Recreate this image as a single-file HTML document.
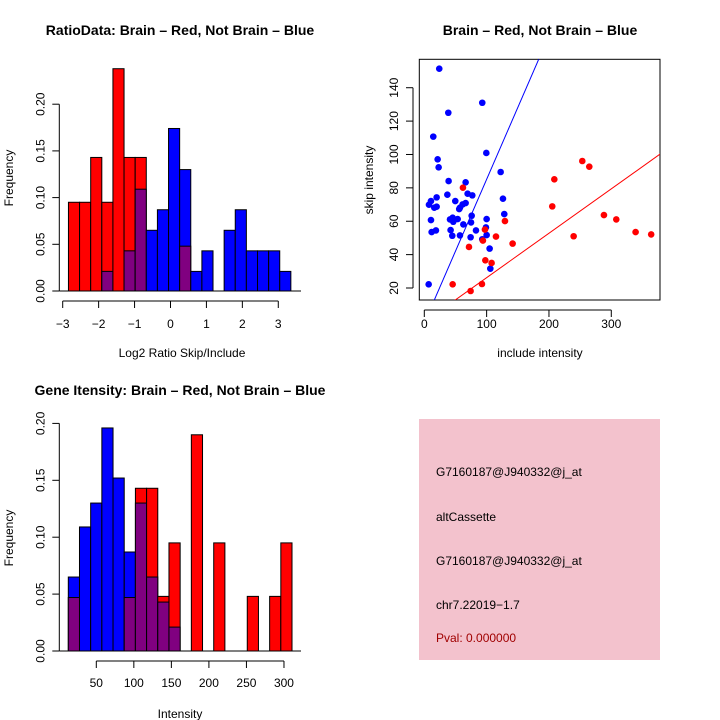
<!DOCTYPE html>
<html><head><meta charset="utf-8"><style>
body{margin:0;background:#fff}
svg{display:block;font-family:"Liberation Sans",sans-serif}
</style></head><body>
<svg id="c" width="720" height="720" viewBox="0 0 720 720">
<rect width="720" height="720" fill="#fff"/>
</svg>
<script>
// ---- data ----
const ratioRed  = [0.095,0.095,0.143,0.095,0.238,0.143,0.143,0,0,0,0.048,0,0,0,0,0,0,0,0,0];
const ratioBlue = [0,0,0,0.021,0,0.043,0.109,0.065,0.087,0.174,0.130,0.021,0.043,0,0.065,0.087,0.043,0.043,0.043,0.021];
const ratioBinStart = -2.84, ratioBinWidth = 0.3095;
const ratioXTicks = [-3,-2,-1,0,1,2,3];
const freqTicks = [0,0.05,0.10,0.15,0.20];
const freqLabels = ["0.00","0.05","0.10","0.15","0.20"];

const intRed  = [0.047,0,0,0,0,0.047,0.143,0.143,0.048,0.095,0,0.190,0,0.095,0,0,0.048,0,0.048,0.095];
const intBlue = [0.065,0.109,0.130,0.196,0.152,0.087,0.130,0.065,0.043,0.021,0,0,0,0,0,0,0,0,0,0];
const intBinStart = 12.7, intBinWidth = 14.9;
const intXTicks = [50,100,150,200,250,300];

const blueX = [24,93,38.5,14.4,99.5,21.4,23,122.5,39,66.3,37,69.5,77,19.8,10.7,49.7,126.2,7.5,19.8,16,66.3,61.5,57.2,56,76,128.3,10.7,41.2,45.5,53.5,46.5,62.6,75,100,11.8,18.7,42.2,44.9,57.2,74.3,82.9,98.9,100,93,104.8,105.9,7];
const blueY = [151.4,131,125,110.7,100.9,97.1,92.3,89.5,84.1,83.3,75.9,76.5,75.5,74.3,72.1,72.1,73.5,69.9,68.7,68.1,70.9,70.1,68.1,67.3,63.3,64.3,60.7,61.1,62.1,61.3,59.7,58.1,59.3,61.3,53.5,54.5,54.7,51.3,51.5,50.4,54.5,56.3,51.7,49.2,43.6,31.6,22.2];
const redX = [62,253.5,264.7,208.6,205.3,288.2,308,339,364,239.6,129.4,97.3,94,115,141.7,71.7,97.9,108,45.5,92.5,74.3];
const redY = [80.1,96.1,92.7,85.1,68.9,63.7,61.1,53.5,52.1,51,60.1,55,48.4,50.8,46.6,44.6,36.6,35,22.2,22.4,18.2];
const blueLine = [-1, 0.861];  // intercept, slope
const redLine = [-0.4, 0.266];
const scXTicks = [0,100,200,300];
const scYTicks = [20,40,60,80,100,120,140];

const svg = document.getElementById('c');
const NS = 'http://www.w3.org/2000/svg';
function mk(tag, attrs, parent){const e=document.createElementNS(NS,tag);for(const k in attrs)e.setAttribute(k,attrs[k]);(parent||svg).appendChild(e);return e;}
function txt(x,y,s,attrs){const e=mk('text',Object.assign({x:x,y:y,'font-size':12,'text-anchor':'middle',fill:'#000'},attrs||{}));e.textContent=s;return e;}

function hist(g, red, blue, start, w, xs, y0, ys){
  for(let i=0;i<red.length;i++){
    const r=red[i], b=blue[i]; const lo=Math.min(r,b), hi=Math.max(r,b);
    const x0=xs(start+i*w), x1=xs(start+(i+1)*w);
    if(hi>0){
      const bar=mk('rect',{x:x0,y:ys(hi),width:x1-x0,height:y0-ys(hi),fill:r>=b?'#ff0000':'#0000ff',stroke:'#000','stroke-width':1},g);
      
      
    }
    if(lo>0){
      const ov=mk('rect',{x:x0,y:ys(lo),width:x1-x0,height:y0-ys(lo),fill:'#800080',stroke:'#000','stroke-width':1},g);
      
      
    }
  }
}
function yAxis(g,x,ys,ticks,labels){
  mk('line',{x1:x,x2:x,y1:ys(ticks[0]),y2:ys(ticks[ticks.length-1]),stroke:'#000'},g);
  ticks.forEach((t,i)=>{mk('line',{x1:x-7,x2:x,y1:ys(t),y2:ys(t),stroke:'#000'},g);
    txt(x-15,ys(t),labels[i],{transform:`rotate(-90 ${x-15} ${ys(t)})`},);});
}
function xAxis(g,y,xs,ticks,off){
  mk('line',{x1:xs(ticks[0]),x2:xs(ticks[ticks.length-1]),y1:y,y2:y,stroke:'#000'},g);
  ticks.forEach(t=>{mk('line',{x1:xs(t),x2:xs(t),y1:y,y2:y+7,stroke:'#000'},g);
    const l=txt(xs(t),y+off,String(t).replace('-','\u2212'));});
}

// ---------- panel 1 ----------
{
const g=mk('g',{});
const xs=v=>62.7+(v+3)*35.93, ys=v=>291-v*934;
hist(g,ratioRed,ratioBlue,ratioBinStart,ratioBinWidth,xs,291,ys);
mk('line',{x1:59.3,x2:301,y1:291,y2:291,stroke:'#000'},g);
yAxis(g,59.3,ys,freqTicks,freqLabels);
xAxis(g,301,xs,ratioXTicks,27);
txt(180,35,'RatioData: Brain \u2013 Red, Not Brain \u2013 Blue',{'font-size':14,'font-weight':'bold',});
txt(182,357,'Log2 Ratio Skip/Include',{});
txt(13,178,'Frequency',{transform:'rotate(-90 13 178)',});
}

// ---------- panel 2 scatter ----------
{
const g=mk('g',{});
const xs=v=>424.3+v*0.6233, ys=v=>288-(v-20)*1.669;
mk('rect',{x:419.3,y:59.3,width:240.7,height:240.7,fill:'none',stroke:'#000'},g);
const cp=mk('clipPath',{id:'cp'},g); mk('rect',{x:419.3,y:59.3,width:240.7,height:240.7},cp);
const lg=mk('g',{'clip-path':'url(#cp)'},g);
const l1=mk('line',{x1:xs(0),y1:ys(blueLine[0]),x2:xs(400),y2:ys(blueLine[0]+blueLine[1]*400),stroke:'#0000ff'},lg);

const l2=mk('line',{x1:xs(0),y1:ys(redLine[0]),x2:xs(400),y2:ys(redLine[0]+redLine[1]*400),stroke:'#ff0000'},lg);

blueX.forEach((v,i)=>{const p=mk('circle',{cx:xs(v),cy:ys(blueY[i]),r:3.3,fill:'#0000ff'},g);
  });
redX.forEach((v,i)=>{const p=mk('circle',{cx:xs(v),cy:ys(redY[i]),r:3.3,fill:'#ff0000'},g);
  });
mk('line',{x1:xs(0),x2:xs(300),y1:310,y2:310,stroke:'#000'},g);
scXTicks.forEach(t=>{mk('line',{x1:xs(t),x2:xs(t),y1:310,y2:317,stroke:'#000'},g);txt(xs(t),328,String(t));});
mk('line',{x1:413,x2:413,y1:ys(20),y2:ys(140),stroke:'#000'},g);
scYTicks.forEach(t=>{mk('line',{x1:406,x2:413,y1:ys(t),y2:ys(t),stroke:'#000'},g);txt(398,ys(t),String(t),{transform:`rotate(-90 398 ${ys(t)})`});});
txt(540,35,'Brain \u2013 Red, Not Brain \u2013 Blue',{'font-size':14,'font-weight':'bold',});
txt(540,357,'include intensity',{});
txt(373,180,'skip intensity',{transform:'rotate(-90 373 180)',});
}

// ---------- panel 3 ----------
{
const g=mk('g',{});
const xs=v=>96.3+(v-50)*0.7507, ys=v=>651-v*1138;
hist(g,intRed,intBlue,intBinStart,intBinWidth,xs,651,ys);
mk('line',{x1:59.3,x2:301,y1:651,y2:651,stroke:'#000'},g);
yAxis(g,59.3,ys,freqTicks,freqLabels);
xAxis(g,661,xs,intXTicks,26);
txt(180,395,'Gene Itensity: Brain \u2013 Red, Not Brain \u2013 Blue',{'font-size':14,'font-weight':'bold',});
txt(180,718,'Intensity',{});
txt(13,538,'Frequency',{transform:'rotate(-90 13 538)',});
}

// ---------- info box ----------
{
const g=mk('g',{});
mk('rect',{x:419,y:419,width:241,height:241,fill:'#f3c2cd'},g);
const lines=[['G7160187@J940332@j_at',476,'#000'],['altCassette',521,'#000'],['G7160187@J940332@j_at',565,'#000'],['chr7.22019\u22121.7',609,'#000'],['Pval: 0.000000',642,'#a00000']];
lines.forEach(l=>{const t=txt(436,l[1],l[0],{'text-anchor':'start',fill:l[2]});});
}
</script>
</body></html>
